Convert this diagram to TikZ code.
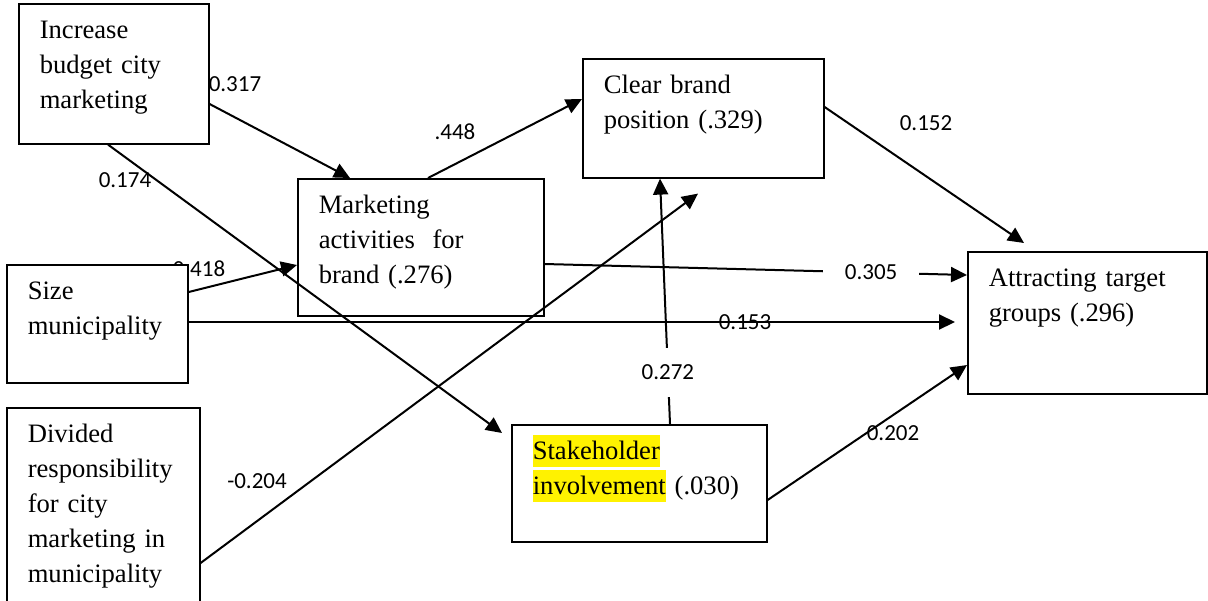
\documentclass[tikz,border=0pt]{standalone}
\usepackage{fontspec}
\setmainfont{Liberation Serif}
\newfontfamily\coeffont{Carlito}
\usetikzlibrary{arrows.meta,calc}
\newcommand{\hlt}[1]{{\setlength{\fboxsep}{0pt}\colorbox{yellow}{\rule[-3.5pt]{0pt}{16pt}#1}}}
\begin{document}
\begin{tikzpicture}
[x=0.5pt,y=-0.5pt,
 box/.style=
   {rectangle,draw=black,line width=0.8pt,fill=white,anchor=north west,
    align=left,inner xsep=10.5pt,inner ysep=0pt,text height=17.5pt,
    font=\fontsize{13.3}{17.5}\selectfont},
 coef/.style={font=\coeffont\fontsize{11.5}{13}\selectfont,inner sep=1pt},
 effect/.style={line width=1pt,-{Triangle[length=8pt,width=7.5pt]}}]
\useasboundingbox (0,0) rectangle (1208,600);
% label partly hidden by the size box
\node [coef] (l418) at (199,269) {0.418};
% boxes
\node [box,text width=74pt,text depth=52.5pt] (budget) at (18,3)
  {Increase\\budget city\\marketing};
\node [box,text width=99.5pt,text depth=42pt] (brand) at (582,58)
  {Clear brand\\position (.329)};
\node [box,text width=102pt,text depth=51pt] (activities) at (297,178)
  {Marketing\\activities~ for\\brand (.276)};
\node [box,text width=69.5pt,text depth=41.5pt] (size) at (6,264)
  {Size\\municipality};
\node [box,text width=98.5pt,text depth=53.5pt] (target) at (967,251)
  {Attracting target\\groups (.296)};
\node [box,text width=75.5pt,text depth=89pt] (divided) at (6,407)
  {Divided\\responsibility\\for city\\marketing in\\municipality};
\node [box,text width=106.5pt,text depth=41pt] (stake) at (511,424)
  {\hlt{Stakeholder}\\\hlt{involvement} (.030)};
% paths
\draw [effect] ($(budget.north east)+(0,101)$) -- ($(activities.north west)+(53,0)$);
\draw [effect] ($(budget.south west)+(90,0)$) -- ($(stake.north west)+(-9,9)$);
\draw [effect] ($(activities.north west)+(131,0)$) -- ($(brand.north west)+(0,41)$);
\draw [effect] ($(brand.north east)+(0,49)$) -- ($(target.north west)+(57,-8)$);
\draw [effect] ($(size.north east)+(0,28)$) -- ($(activities.north west)+(0,87)$);
\draw [effect] ($(activities.north east)+(0,86)$)
  -- node [coef,pos=0.773,fill=white,inner xsep=11pt] (l305) {0.305}
  ($(target.north west)+(0,24)$);
\draw [effect] ($(size.north east)+(0,58)$)
  -- node [coef,pos=0.726] (l153) {0.153}
  ($(target.north west)+(-12,71)$);
\draw [effect] ($(divided.north east)+(0,156)$) -- ($(brand.south west)+(116,15)$);
\draw [effect] ($(stake.north west)+(159,0)$)
  -- node [coef,pos=0.21,fill=white,inner ysep=8.5pt] (l272) {0.272}
  ($(brand.south west)+(78,0)$);
\draw [effect] ($(stake.north east)+(0,76)$) -- ($(target.north west)+(0,114)$);
% coefficients
\node [coef] (l317) at (235,84) {0.317};
\node [coef] (l174) at (125,180) {0.174};
\node [coef] (l448) at (455,132) {.448};
\node [coef] (l152) at (926,123) {0.152};
\node [coef] (l204) at (257,481) {-0.204};
\node [coef] (l202) at (893,433) {0.202};
\end{tikzpicture}
\end{document}
